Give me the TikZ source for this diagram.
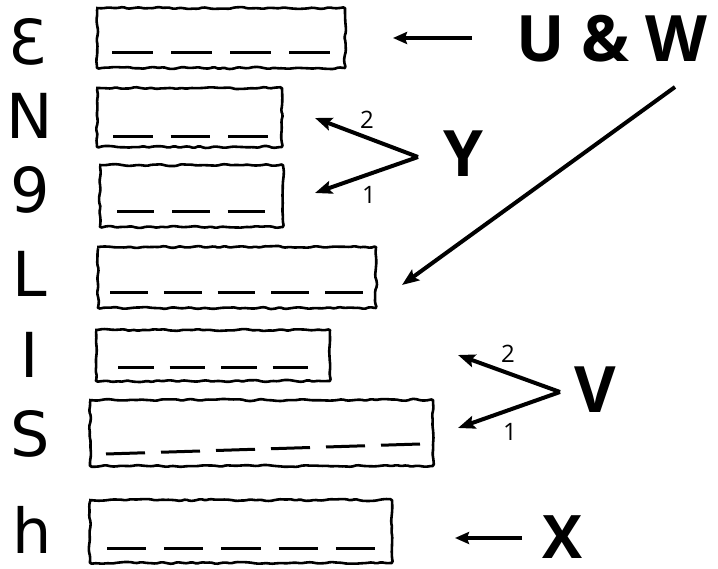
\documentclass[tikz,border=0pt]{standalone}
\usepackage{fontspec}
\setmainfont{Open Sans}
\newfontfamily\letterfont{DejaVu Sans}
\usetikzlibrary{arrows.meta,decorations.pathmorphing}
\newcommand\dashrow[6]{%
  \pgfmathsetmacro\dlen{((#3)-(#1)-((#5)-1)*(#6))/(#5)}%
  \foreach \k in {1,...,#5}{%
    \pgfmathsetmacro\sa{(#1)+(\k-1)*(\dlen+(#6))}%
    \pgfmathsetmacro\sb{\sa+\dlen}%
    \pgfmathsetmacro\ya{(#2)+((#4)-(#2))*(\sa-(#1))/((#3)-(#1))}%
    \pgfmathsetmacro\yb{(#2)+((#4)-(#2))*(\sb-(#1))/((#3)-(#1))}%
    \draw[dashline] (\sa,\ya) -- (\sb,\yb);
  }}
\begin{document}
\begin{tikzpicture}[x=1pt,y=-1pt,
  roughbox/.style={draw=black,line width=2.6pt,line join=round,
    decoration={random steps,segment length=5pt,amplitude=1.1pt},
    decorate,rounded corners=1.5pt},
  dashline/.style={line width=3pt},
  arr/.style={line width=4pt,-{Stealth[length=17pt,width=13pt,inset=3pt]}},
  biglabel/.style={font=\fontsize{64}{64}\selectfont\bfseries,inner sep=0pt},
  numlabel/.style={font=\fontsize{24}{24}\selectfont,inner sep=0pt},
  letter/.style={font=\letterfont\fontsize{62}{62}\selectfont,inner sep=0pt}]
\useasboundingbox (0,0) rectangle (718,569);
\pgfmathsetseed{7}
% boxes
\draw[roughbox] (97,8) rectangle (345,68);
\draw[roughbox] (97,88) rectangle (282,147);
\draw[roughbox] (100,165) rectangle (283,227);
\draw[roughbox] (98,247) rectangle (376,308);
\draw[roughbox] (96,330) rectangle (330,381);
\draw[roughbox] (90,400) rectangle (433,466);
\draw[roughbox] (90,500) rectangle (392,563);
% dashes
\dashrow{112}{53}{330}{53}{4}{18}
\dashrow{113}{137}{268}{137}{3}{18}
\dashrow{117}{212}{265}{212}{3}{18}
\dashrow{110}{293}{363}{293}{5}{16}
\dashrow{118}{368}{308}{368}{4}{16}
\dashrow{106}{454}{420}{444}{6}{16}
\dashrow{107}{548}{375}{548}{5}{18}
% left letters
\node[letter] (lE) at (28,42) {Ɛ};
\node[letter] (lN) at (30,116) {N};
\node[letter] (lG) at (30,190) {9};
\node[letter] (lL) at (30,274) {L};
\node[letter] (lI) at (30,355) {I};
\node[letter] (lS) at (30,434) {S};
\node[letter] (lH) at (32,530) {h};
% labels
\node[biglabel,anchor=west] (uw) at (516,39) {U \& W};
\node[biglabel] (y) at (463,154) {Y};
\node[biglabel] (v) at (595,390) {V};
\node[biglabel,font=\fontsize{60}{60}\selectfont\bfseries] (x) at (563,537) {X};
% coordinates
\coordinate (uwa) at (472,38);
\coordinate (uwt) at (393,38);
\coordinate (dgs) at (675,87);
\coordinate (dgt) at (402,285);
\coordinate (yv) at (418,157);
\coordinate (y2) at (315,118);
\coordinate (y1) at (315,193);
\coordinate (vv) at (560,392);
\coordinate (v2) at (458,355);
\coordinate (v1) at (458,428);
\coordinate (xa) at (522,538);
\coordinate (xt) at (455,538);
% arrows
\draw[line width=3.5pt,-{Stealth[length=14pt,width=12pt,inset=2pt]}] (uwa) -- (uwt);
\draw[arr] (dgs) -- (dgt);
\draw[arr] (yv) -- (y2);
\draw[arr] (yv) -- (y1);
\draw[arr] (vv) -- (v2);
\draw[arr] (vv) -- (v1);
\draw[line width=3.5pt,-{Stealth[length=14pt,width=12pt,inset=2pt]}] (xa) -- (xt);
% numbers
\node[numlabel] (n2y) at (367,120) {2};
\node[numlabel] (n1y) at (369,195) {1};
\node[numlabel] (n2v) at (508,354) {2};
\node[numlabel] (n1v) at (510,432) {1};
\end{tikzpicture}
\end{document}
